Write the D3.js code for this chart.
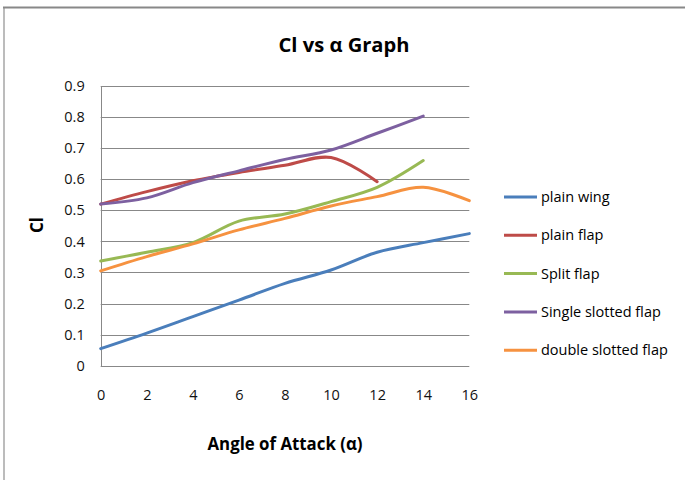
<!DOCTYPE html>
<html><head><meta charset="utf-8">
<script src="https://cdn.jsdelivr.net/npm/d3@7"></script>
<style>body{margin:0;background:#fff;}svg{display:block;font-family:"Open Sans",sans-serif;}</style>
</head><body>
<svg id="c" width="685" height="480"></svg>
<script>
const angles = [0, 2, 4, 6, 8, 10, 12, 14, 16];
const plainWing = [0.055, 0.105, 0.158, 0.211, 0.265, 0.308, 0.365, 0.396, 0.425];
const plainFlap = [0.52, 0.56, 0.595, 0.622, 0.645, 0.670, 0.592];
const splitFlap = [0.337, 0.365, 0.396, 0.465, 0.488, 0.528, 0.574, 0.660];
const singleSlotted = [0.52, 0.54, 0.589, 0.627, 0.664, 0.694, 0.748, 0.803];
const doubleSlotted = [0.305, 0.351, 0.392, 0.437, 0.474, 0.514, 0.544, 0.574, 0.531];
const seriesNames = ["plain wing", "plain flap", "Split flap", "Single slotted flap", "double slotted flap"];
const seriesColors = ["#4A7EBB", "#BE4B48", "#98B954", "#7D60A0", "#F69240"];
const yTicks = [0, 0.1, 0.2, 0.3, 0.4, 0.5, 0.6, 0.7, 0.8, 0.9];
const xTicks = [0, 2, 4, 6, 8, 10, 12, 14, 16];

const allSeries = [plainWing, plainFlap, splitFlap, singleSlotted, doubleSlotted];
const svg = d3.select("#c");

// chart border
svg.append("line").attr("x1", 4).attr("x2", 4).attr("y1", 7).attr("y2", 480)
  .attr("stroke", "#a6a6a6").attr("stroke-width", 1.5);
svg.append("line").attr("x1", 3).attr("x2", 685).attr("y1", 7.5).attr("y2", 7.5)
  .attr("stroke", "#888").attr("stroke-width", 2);

const x = d3.scaleLinear().domain([0, 16]).range([100.7, 469.3]);
const y = d3.scaleLinear().domain([0, 0.9]).range([365.7, 86]);

const g = svg.append("g");
// gridlines
g.selectAll("line.grid").data(yTicks).join("line")
  .attr("x1", x(0)).attr("x2", x(16))
  .attr("y1", d => Math.round(y(d)) + 0.5).attr("y2", d => Math.round(y(d)) + 0.5)
  .attr("stroke", "#888").attr("stroke-width", 1);
// left axis line
g.append("line").attr("x1", Math.round(x(0)) + 0.5).attr("x2", Math.round(x(0)) + 0.5)
  .attr("y1", y(0.9)).attr("y2", y(0) + 0.5).attr("stroke", "#888");

// y tick labels
const yAxis = d3.axisLeft(y).tickValues(yTicks).tickSize(0).tickPadding(16)
  .tickFormat(d => d === 0 ? "0" : d3.format(".1f")(d));
const ya = svg.append("g").attr("transform", `translate(${x(0)},0)`).call(yAxis);
ya.select(".domain").remove();
ya.selectAll("text").attr("font-size", 14.5).attr("fill", "#111").attr("font-family", "Open Sans");

// x tick labels
const xAxis = d3.axisBottom(x).tickValues(xTicks).tickSize(0).tickPadding(24);
const xa = svg.append("g").attr("transform", `translate(0,${y(0)})`).call(xAxis);
xa.select(".domain").remove();
xa.selectAll("text").attr("font-size", 14.5).attr("fill", "#111").attr("font-family", "Open Sans");

// lines
const line = d3.line().x((d, i) => x(angles[i])).y(d => y(d)).curve(d3.curveCatmullRom.alpha(0.5));
allSeries.forEach((s, i) => {
  svg.append("path").attr("d", line(s)).attr("fill", "none")
    .attr("stroke", seriesColors[i]).attr("stroke-width", 3).attr("stroke-linecap", "round");
});

// title
svg.append("text").attr("x", 344).attr("y", 52).attr("text-anchor", "middle")
  .attr("font-size", 19).attr("font-weight", "bold").attr("textLength", 131).attr("lengthAdjust", "spacingAndGlyphs")
  .text("Cl vs α Graph");
// x axis title
svg.append("text").attr("x", 285).attr("y", 450).attr("text-anchor", "middle")
  .attr("font-size", 17).attr("font-weight", "bold").attr("textLength", 155).attr("lengthAdjust", "spacingAndGlyphs")
  .text("Angle of Attack (α)");
// y axis title
svg.append("text").attr("transform", "translate(43,225) rotate(-90)").attr("text-anchor", "middle")
  .attr("font-size", 17).attr("font-weight", "bold").text("Cl");

// legend
const leg = svg.append("g");
seriesNames.forEach((n, i) => {
  const ly = 197 + i * 38.3;
  leg.append("line").attr("x1", 504).attr("x2", 537).attr("y1", ly).attr("y2", ly)
    .attr("stroke", seriesColors[i]).attr("stroke-width", 3);
  leg.append("text").attr("x", 541).attr("y", ly + 5).attr("font-size", 14.5).attr("fill", "#000")
    .text(n);
});
</script>
</body></html>
